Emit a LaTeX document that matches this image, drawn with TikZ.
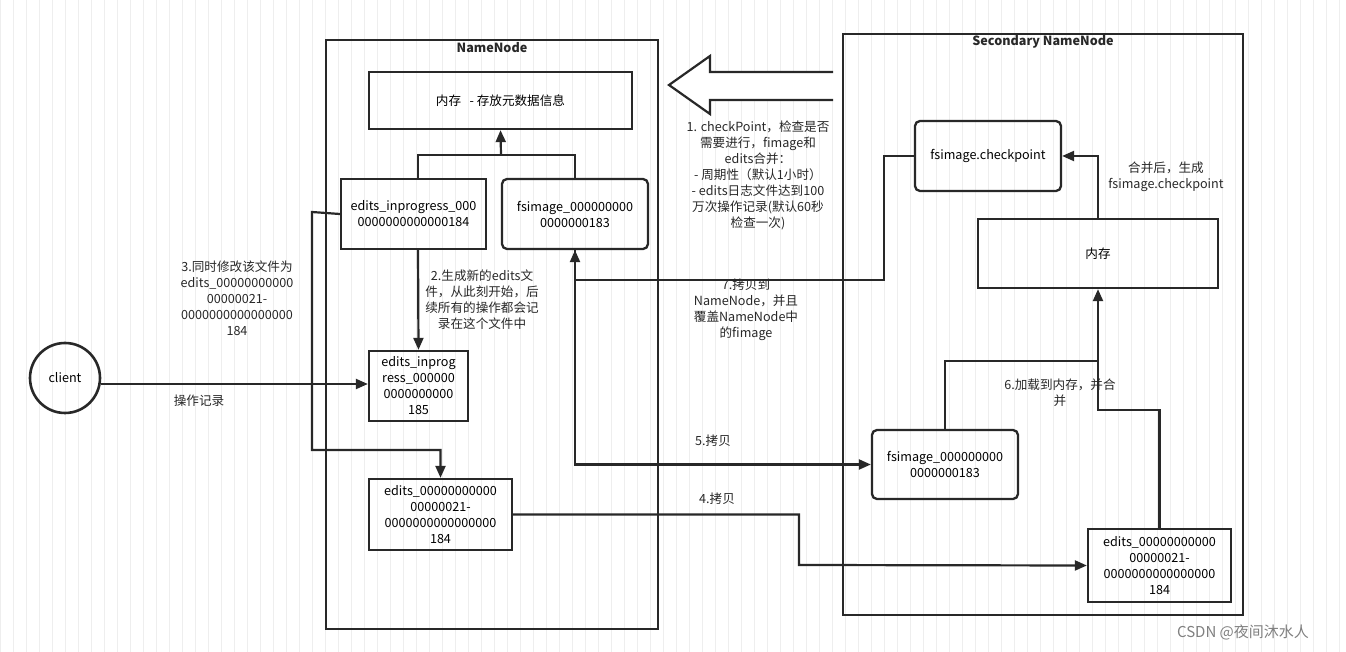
\documentclass[tikz,border=0pt]{standalone}
\usepackage{fontspec}
\setmainfont{Open Sans}
\newfontfamily\cjk{Noto Sans CJK SC}
\usetikzlibrary{arrows.meta}
\definecolor{linegray}{RGB}{40,40,40}
\definecolor{gridgray}{RGB}{238,238,238}
\tikzset{
  box/.style={draw=linegray,line width=1.15pt,align=center,font=\cjk\fontsize{6.3}{8}\selectfont,inner sep=1pt},
  roundbox/.style={box,rounded corners=2.5pt},
  frame/.style={draw=linegray,line width=1.1pt},
  link/.style={draw=linegray,line width=1.1pt},
  orientedarc/.style={link,-{Triangle[length=6pt,width=5pt]}},
  arclabel/.style={align=center,font=\cjk\fontsize{6.3}{8}\selectfont,inner sep=0pt,text=linegray},
  title/.style={font=\cjk\bfseries\fontsize{6.3}{8}\selectfont,text=linegray}
}
\begin{document}
\begin{tikzpicture}[x=0.5pt,y=-0.5pt]
\useasboundingbox (0,0) rectangle (1346,652);
\fill[white] (0,0) rectangle (1346,652);
\draw[gridgray,step=13] (0,0) grid (1346,652);

% two frames
\draw[frame] (326,40) rectangle (658,629);
\node[title] (T1) at (492,48) {NameNode};
\draw[frame] (843,34) rectangle (1243,615);
\node[title] (T2) at (1043,42) {Secondary NameNode};

% NameNode side
\node[box,minimum width=131.5pt,minimum height=28.5pt] (MEM) at (500.5,100.5) {内存 \ \ - 存放元数据信息};
\node[box,minimum width=72.5pt,minimum height=35pt] (EIP1) at (413.5,214) {edits\_inprogress\_000\\0000000000000184};
\node[roundbox,minimum width=73pt,minimum height=35pt] (FSI1) at (575,214) {fsimage\_000000000\\0000000183};
\node[box,minimum width=49.5pt,minimum height=35pt] (EIP2) at (418.5,386) {edits\_inprog\\ress\_000000\\0000000000\\185};
\node[box,minimum width=71.5pt,minimum height=35.5pt] (ED1) at (440.5,514.5) {edits\_00000000000\\00000021-\\0000000000000000\\184};
\node[draw=linegray,line width=1.3pt,circle,minimum size=35pt,font=\cjk\fontsize{6.3}{8}\selectfont] (CL) at (65,378) {client};

% Secondary side
\node[roundbox,minimum width=73pt,minimum height=35pt] (CKP) at (988,156) {fsimage.checkpoint};
\node[box,minimum width=120pt,minimum height=34.5pt] (MEM2) at (1098,253.5) {内存};
\node[roundbox,minimum width=73pt,minimum height=34.5pt] (FSI2) at (945,464.5) {fsimage\_000000000\\0000000183};
\node[box,minimum width=71.5pt,minimum height=36.5pt] (ED2) at (1159.5,565.5) {edits\_00000000000\\00000021-\\0000000000000000\\184};

% big hollow arrow
\draw[link,fill=white] (833,72) -- (710,72) -- (710,56) -- (669,85) -- (710,114) -- (710,100) -- (833,100);

% connectors
\coordinate (J1) at (501,155);
\coordinate (EIPN) at (418,179);
\coordinate (EIPS) at (418,249);
\draw[link] (EIPN) |- (J1) -| (FSI1.north);
\draw[orientedarc] (J1) -- (MEM.south);
\draw[orientedarc] (EIPS) -- (EIP2.north) node[arclabel,midway,right=3pt] {2.生成新的edits文\\件，从此刻开始，后\\续所有的操作都会记\\录在这个文件中};
\draw[orientedarc] (CL.east |- 0,384) -- (EIP2.west |- 0,384);
\node[arclabel] (L0) at (199,401) {操作记录};
\draw[orientedarc] (EIP1.west) -- (312,212) -- (312,450) -| (ED1.north);
\node[arclabel] (L3) at (237,298) {3.同时修改该文件为\\edits\_00000000000\\00000021-\\0000000000000000\\184};
\node[arclabel] (L1) at (758,175) {1. checkPoint，检查是否\\需要进行，fimage和\\edits合并：\\- 周期性（默认1小时）\\- edits日志文件达到100\\万次操作记录(默认60秒\\检查一次)};
\coordinate (J7) at (884,280);
\draw[orientedarc] (CKP.west) -| (J7) -| (FSI1.south);
\node[arclabel] (L7) at (746,310) {7.拷贝到\\NameNode，并且\\覆盖NameNode中\\的fimage};
\draw[orientedarc] (FSI1.south) |- (FSI2.west);
\node[arclabel] (L5) at (713,441) {5.拷贝};
\draw[orientedarc] (ED1.east) -| (799,565) -- (ED2.west);
\node[arclabel] (L4) at (717,499) {4.拷贝};
\draw[orientedarc] (MEM2.north) |- (CKP.east);
\node[arclabel] (LM) at (1166,177) {合并后，生成\\fsimage.checkpoint};
\coordinate (J6) at (1098,361);
\draw[link] (FSI2.north) |- (J6);
\draw[orientedarc] (ED2.north) |- (1098,410) -- (MEM2.south);
\node[arclabel] (L6) at (1060,393) {6.加载到内存，并合\\并};

\node[font=\cjk\fontsize{7.5}{9}\selectfont,text=gray] (WM) at (1243,632) {CSDN @夜间沐水人};
\end{tikzpicture}
\end{document}
